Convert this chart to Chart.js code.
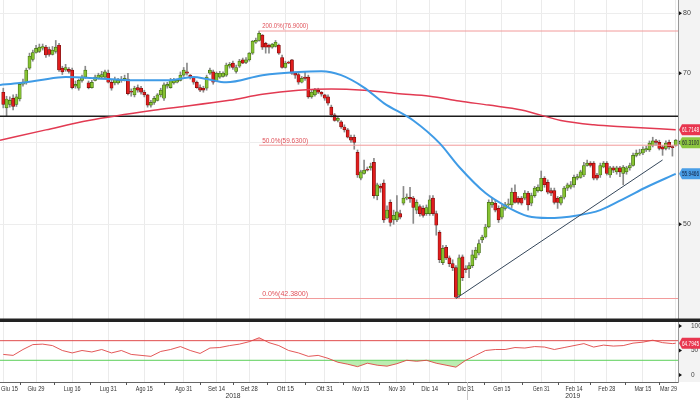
<!DOCTYPE html>
<html>
<head>
<meta charset="utf-8">
<script src="https://cdn.jsdelivr.net/npm/chart.js@4/dist/chart.umd.min.js"></script>
<style>html,body{margin:0;padding:0;background:#fff}</style>
</head>
<body>
<canvas id="c" width="700" height="400"></canvas>
<script>
/* daily candles, Giu 15 2018 -> Mar 29 2019 (index = trading day) */
const opens = [
  67.1,64.8,65.3,66.2,65.3,66.1,68.3,68.5,70.8,72.2, 73.3,73.5,74.0,74.2,73.8,73.0,73.5,74.5,70.8,70.5,
  70.6,70.5,68.0,67.7,68.9,69.4,68.5,67.8,68.9,69.2, 69.4,69.4,70.0,68.6,68.5,68.5,68.9,68.9,69.1,67.2,
  66.7,67.8,67.7,67.1,66.7,65.2,65.6,65.9,66.7,66.2, 68.0,67.8,68.5,68.6,68.9,69.7,70.2,69.7,69.4,68.6,
  67.8,67.7,67.7,70.0,70.2,68.9,69.4,69.5,69.7,71.1, 71.6,70.3,71.1,72.1,71.7,72.1,73.2,75.0,75.3,76.2,
  74.8,74.5,74.2,74.3,74.5,72.5,70.9,71.7,72.1,70.0, 69.8,68.6,69.4,69.4,66.4,66.7,67.4,67.1,66.7,66.4,
  64.9,63.8,63.0,62.8,62.1,61.7,60.7,60.7,58.7,55.4, 56.0,56.5,56.7,57.4,53.3,54.4,54.8,50.7,52.5,50.5,
  50.5,51.2,52.4,53.0,53.1,53.0,51.6,52.0,51.8,51.2, 51.2,53.0,51.2,49.1,45.9,47.5,46.4,45.8,45.4,42.7,
  46.5,45.3,45.3,45.6,46.4,46.9,48.3,48.6,49.7,52.2, 52.4,51.8,50.8,51.8,52.2,52.2,53.7,53.0,53.0,53.0,
  53.6,52.4,53.3,53.9,53.9,55.4,54.9,53.9,53.9,53.0, 52.4,53.1,54.2,54.3,54.6,55.4,55.5,55.8,57.0,57.3,
  57.3,55.8,55.8,56.8,57.3,55.8,56.7,56.2,56.7,56.0, 56.2,56.7,57.0,58.3,58.5,58.6,59.0,59.0,59.6,60.2,
  60.0,59.4,59.2,60.0,59.4,59.6
];
const highs = [
  67.7,66.5,66.4,66.7,66.8,68.6,69.1,70.8,73.2,73.7, 74.5,74.7,74.7,74.5,74.2,74.3,75.3,74.8,71.1,71.4,
  70.9,70.8,68.8,69.1,69.7,71.1,68.8,68.9,69.7,70.0, 70.3,70.5,70.5,68.9,69.4,69.2,69.5,69.7,70.0,67.6,
  68.0,68.2,68.0,67.4,66.8,65.9,66.5,66.9,67.7,68.5, 68.6,69.2,69.2,69.1,70.2,70.9,71.6,69.8,69.5,68.8,
  68.2,68.0,69.7,70.8,70.5,70.2,70.3,70.2,71.6,71.7, 71.9,71.3,72.2,72.4,72.5,73.3,75.3,75.7,76.9,76.3,
  75.0,74.7,74.8,75.3,74.7,72.9,71.9,71.9,72.2,70.2, 70.0,69.5,70.2,69.7,67.4,67.7,67.7,67.2,66.8,66.7,
  65.2,64.0,63.6,63.0,62.4,61.9,61.0,61.0,59.0,56.4, 57.7,56.8,57.3,57.9,54.8,54.7,55.2,52.1,52.8,51.6,
  53.3,51.6,54.4,53.5,54.3,53.2,52.8,52.2,52.1,52.2, 53.3,53.3,51.5,49.3,47.7,47.7,46.6,46.2,45.6,46.7,
  46.7,45.6,45.9,47.2,47.5,48.3,48.8,50.0,52.8,53.0, 52.8,52.1,52.2,52.5,52.9,54.2,54.6,53.2,53.2,53.9,
  53.8,53.6,54.4,54.6,56.3,55.6,55.2,54.2,54.2,53.2, 53.3,54.4,54.8,55.0,55.8,55.9,56.4,57.4,57.7,57.5,
  57.5,56.0,57.3,57.5,57.5,56.9,56.9,56.9,56.9,57.0, 56.9,57.3,58.6,59.0,59.1,59.4,59.5,60.2,60.7,60.4,
  60.3,59.6,60.2,60.3,59.6,60.4
];
const lows = [
  64.8,63.6,64.9,64.5,65.0,65.8,68.0,68.3,70.6,71.9, 73.2,73.3,73.7,72.5,72.7,72.9,73.2,70.3,69.8,70.3,
  70.0,67.6,67.7,67.4,68.6,69.2,67.6,67.7,68.8,69.1, 69.2,69.2,68.5,67.4,68.2,68.3,68.6,68.8,66.7,66.5,
  66.4,67.1,66.8,66.4,64.9,64.9,65.3,65.8,66.4,65.9, 67.7,67.7,68.3,68.5,68.8,69.5,69.7,69.1,68.3,67.7,
  67.2,67.1,67.4,69.8,68.3,68.8,69.2,69.4,69.5,70.8, 70.6,70.0,70.9,71.5,71.5,71.9,73.0,74.8,75.2,73.8,
  73.2,73.2,74.0,74.2,73.0,70.8,70.8,71.5,69.8,69.2, 68.3,68.5,68.9,66.2,66.2,66.5,66.9,66.5,65.9,65.2,
  63.5,62.9,62.8,61.9,61.4,60.6,60.0,59.1,55.5,55.2, 55.9,56.3,56.4,53.0,52.8,53.7,50.2,50.6,49.8,50.0,
  50.3,50.6,52.2,52.8,52.5,50.1,51.2,50.9,50.8,51.0, 51.0,51.0,48.8,45.9,45.7,46.2,45.5,45.1,42.38,42.5,
  44.1,44.9,44.4,45.4,46.2,46.7,48.0,48.5,49.6,51.9, 51.4,50.2,50.6,51.6,51.9,51.9,52.4,52.3,52.2,52.8,
  51.6,52.1,53.1,53.7,53.8,54.3,53.5,53.3,52.3,51.8, 52.2,52.9,53.9,54.1,54.3,55.2,55.4,55.6,56.9,56.8,
  55.2,55.2,55.5,56.7,55.8,55.5,56.1,55.9,55.6,54.6, 55.9,56.4,56.9,58.1,58.3,58.4,58.8,58.8,59.4,59.6,
  59.0,58.3,59.0,59.1,58.2,59.5
];
const closes = [
  65.3,66.1,65.9,65.0,66.4,68.3,68.6,70.5,72.7,73.3, 74.0,74.2,74.3,72.9,73.0,73.7,74.2,70.5,70.2,70.9,
  70.3,67.8,68.3,68.9,69.4,70.5,67.8,68.6,69.4,69.7, 69.8,70.2,68.6,67.7,69.1,68.9,69.1,69.2,66.9,67.1,
  67.7,67.4,67.1,66.7,65.2,65.6,66.2,66.7,67.4,68.2, 68.3,68.9,68.9,68.9,69.7,70.5,70.0,69.4,68.6,67.8,
  67.4,67.4,69.4,70.5,68.6,70.0,70.0,70.0,71.3,71.4, 70.9,70.9,71.9,71.6,72.1,73.2,75.2,75.3,76.5,74.2,
  74.2,74.2,74.7,75.0,73.2,70.9,71.6,71.6,70.0,69.7, 68.6,69.2,69.2,66.4,67.1,67.4,67.1,66.8,66.2,65.5,
  63.8,63.0,63.3,62.1,61.7,60.7,60.3,60.0,55.8,56.2, 56.4,56.4,56.9,53.3,54.6,54.2,50.5,51.6,50.2,51.0,
  51.4,50.8,53.0,53.1,52.9,51.9,52.5,51.2,51.0,51.9, 52.8,51.2,49.9,46.2,47.4,46.4,45.8,45.4,42.5,46.4,
  44.4,45.2,45.6,46.7,47.2,47.9,48.6,49.7,52.5,52.5, 51.6,50.5,51.9,52.2,52.3,53.7,52.5,52.5,52.4,53.6,
  52.2,53.3,54.2,54.3,55.4,54.6,53.7,53.6,52.5,52.5, 53.1,54.2,54.6,54.6,55.5,55.6,56.2,57.0,57.3,57.0,
  55.4,55.4,57.0,57.3,56.0,56.7,56.4,56.7,56.2,56.8, 56.7,57.0,58.3,58.6,58.6,59.1,59.2,59.9,60.2,60.0,
  59.2,59.1,59.9,59.4,59.3,60.31
];

/* moving averages (sampled) */
const ma50Idx = [-1,5,11,19,29,40,50,58,62,68,79,90,97,103,110,116,125,133,139,147,154,160,166,175,182,190,196,205];
const ma50Val = [68.2,68.5,68.9,69.4,69.2,68.9,68.9,69.4,69.1,68.6,69.7,70.2,70.3,69.7,67.8,65.5,63.0,59.9,56.8,53.6,51.9,50.9,50.7,51.0,51.6,53.1,54.3,55.9466];
const ma200Idx = [-1,13,26,48,69,79,90,100,110,120,130,139,148,158,170,180,190,205];
const ma200Val = [60.3,61.7,63.0,64.6,65.9,66.8,67.4,67.6,67.4,66.9,66.5,65.8,65.2,64.5,63.0,62.4,62.1,61.7148];

/* RSI panel */
const rsiIdx = [0,3,6,9,12,15,18,21,24,27,30,33,36,39,42,45,48,51,54,57,60,63,66,69,72,75,78,81,84,87,90,93,96,99,
  102,105,108,111,114,117,120,123,126,129,132,135,138,141,144,147,150,153,156,159,162,165,168,171,174,177,180,183,186,189,
  192,195,198,201,204,205];
const rsiVal = [42,40,52,62,63,60,50,45,50,47,52,45,50,42,40,38,48,52,58,50,44,55,56,60,63,68,76,66,60,50,45,38,40,34,
  26,22,17,24,20,18,23,30,28,30,24,20,16,30,40,50,52,52,56,55,58,57,52,56,60,64,57,61,59,60,
  65,67,71,66,64,64.7945];
const rsiLevels = [70, 30];

/* studies */
const fibStartIdx = 78;
const fibLevels = [76.9, 59.63, 42.38];
const fibLabels = ['200.0%(76.9000)', '50.0%(59.6300)', '0.0%(42.3800)'];
const hLine = 63.6;
const trendIdx = [138, 201];
const trendVal = [42.38, 57.7];

/* right-edge value tags */
const tagTexts = ['61.7148', '60.3100', '55.9466'];
const tagValues = [61.7148, 60.31, 55.9466];
const rsiTag = ['64.7945', 64.7945];

/* x axis */
const tickIdx = [0,10,21,32,43,55,65,75,86,98,109,120,130,141,152,164,174,184,195,205];
const tickLabels = ['Giu 15','Giu 29','Lug 16','Lug 31','Ago 15','Ago 31','Set 14','Set 28','Ott 15','Ott 31',
  'Nov 15','Nov 30','Dic 14','Dic 31','Gen 15','Gen 31','Feb 14','Feb 28','Mar 15','Mar 29'];
const years = ['2018', '2019'];
const yearCenters = [70, 173.6];
const yearBreak = 141.5;

const X_MIN = -1, X_MAX = 205.7;
const FONT = '"Liberation Sans", Arial, sans-serif';
Chart.defaults.font.family = FONT;

const up = opens.map((o, i) => closes[i] >= o);
const bodyFill = up.map(u => u ? '#86c232' : '#e01d1d');
const bodyEdge = up.map(u => u ? '#3f6a12' : '#7d0c0c');

const pts = (xs, ys) => xs.map((x, i) => ({x, y: ys[i]}));
const flat = (v, from) => [{x: from, y: v}, {x: X_MAX, y: v}];

const overlay = {
  id: 'overlay',
  beforeDraw(chart) {
    const {ctx, chartArea: a} = chart;
    ctx.save();
    ctx.fillStyle = '#f3f3f3';
    ctx.fillRect(a.right, 0, chart.width - a.right, a.bottom);
    ctx.restore();
  },
  afterDraw(chart) {
    const {ctx, chartArea: a} = chart;
    const {x, y, yr} = chart.scales;
    ctx.save();
    // fib labels
    ctx.font = '7px ' + FONT;
    ctx.fillStyle = '#e0525a';
    ctx.textAlign = 'left';
    ctx.textBaseline = 'bottom';
    fibLevels.forEach((v, i) => ctx.fillText(fibLabels[i], x.getPixelForValue(fibStartIdx) + 3, y.getPixelForValue(v) - 1, 46));
    // panel separator
    ctx.fillStyle = '#222';
    ctx.fillRect(0, y.bottom - 1.5, chart.width, 3.5);
    // minor x ticks between labels
    ctx.strokeStyle = '#555';
    ctx.lineWidth = 1;
    for (let i = 0; i < tickIdx.length - 1; i++) {
      const px = Math.round(x.getPixelForValue((tickIdx[i] + tickIdx[i + 1]) / 2)) + 0.5;
      ctx.beginPath(); ctx.moveTo(px, a.bottom); ctx.lineTo(px, a.bottom + 3); ctx.stroke();
    }
    // date labels
    ctx.fillStyle = '#333';
    ctx.font = '7px ' + FONT;
    ctx.textAlign = 'center';
    ctx.textBaseline = 'middle';
    tickIdx.forEach((t, i) => {
      const w = Math.min(ctx.measureText(tickLabels[i]).width, 17);
      const cx = Math.min(Math.max(x.getPixelForValue(t), w / 2 + 1), a.right - w / 2 - 1);
      ctx.fillText(tickLabels[i], cx, 389, 17);
    });
    // year break + year labels
    ctx.strokeStyle = '#c8c8c8';
    const bx = Math.round(x.getPixelForValue(yearBreak)) + 0.5;
    ctx.beginPath(); ctx.moveTo(bx, a.bottom); ctx.lineTo(bx, chart.height); ctx.stroke();
    years.forEach((t, i) => ctx.fillText(t, x.getPixelForValue(yearCenters[i]), 396, 15));
    // tick arrows on right axes
    ctx.fillStyle = '#111';
    [y, yr].forEach(s => s.ticks.forEach(t => {
      const py = s.getPixelForValue(t.value);
      ctx.beginPath(); ctx.moveTo(a.right + 1, py - 2); ctx.lineTo(a.right + 4, py); ctx.lineTo(a.right + 1, py + 2); ctx.fill();
    }));
    // value tags
    const tag = (py, txt, bg, fg) => {
      ctx.fillStyle = bg;
      ctx.beginPath();
      ctx.moveTo(a.right + 1, py); ctx.lineTo(a.right + 4, py - 5.5); ctx.lineTo(chart.width, py - 5.5);
      ctx.lineTo(chart.width, py + 5.5); ctx.lineTo(a.right + 4, py + 5.5); ctx.closePath(); ctx.fill();
      ctx.fillStyle = fg;
      ctx.font = '7px ' + FONT;
      ctx.textAlign = 'left';
      ctx.textBaseline = 'middle';
      ctx.fillText(txt, a.right + 4, py + 0.5, chart.width - a.right - 5);
    };
    const y0 = y.getPixelForValue(tagValues[0]);
    const y1 = Math.max(y.getPixelForValue(tagValues[1]), y0 + 13);
    tag(y0, tagTexts[0], '#e8364f', '#fff');
    tag(y1, tagTexts[1], '#8cc63f', '#223');
    tag(y.getPixelForValue(tagValues[2]), tagTexts[2], '#4a9ee6', '#102040');
    tag(yr.getPixelForValue(rsiTag[1]), rsiTag[0], '#e8364f', '#fff');
    ctx.restore();
  }
};

const lineBase = {type: 'line', pointRadius: 0, fill: false, yAxisID: 'y'};
const rsiBase = {type: 'line', pointRadius: 0, yAxisID: 'yr'};

new Chart(document.getElementById('c'), {
  type: 'bar',
  data: {
    datasets: [
      {...lineBase, order: 0, data: pts(trendIdx, trendVal), borderColor: '#34465a', borderWidth: 1},
      {...lineBase, order: 1, data: pts(ma50Idx, ma50Val), borderColor: '#3f9be6', borderWidth: 2, cubicInterpolationMode: 'monotone'},
      {...lineBase, order: 1, data: pts(ma200Idx, ma200Val), borderColor: '#e23a52', borderWidth: 1.5, cubicInterpolationMode: 'monotone'},
      {...lineBase, order: 2, data: flat(hLine, X_MIN), borderColor: '#1c1c1c', borderWidth: 1.5},
      ...fibLevels.map(v => ({...lineBase, order: 3, data: flat(v, fibStartIdx), borderColor: '#f29a9a', borderWidth: 1})),
      {type: 'bar', order: 4, yAxisID: 'y', grouped: false, barThickness: 3.2, minBarLength: 1,
       data: opens.map((o, i) => ({x: i, y: [o, closes[i]]})),
       backgroundColor: bodyFill, borderColor: bodyEdge, borderWidth: 0.7, borderSkipped: false},
      {type: 'bar', order: 5, yAxisID: 'y', grouped: false, barThickness: 1,
       data: lows.map((l, i) => ({x: i, y: [l, highs[i]]})), backgroundColor: '#8a8a8a'},
      {...rsiBase, order: 0, data: pts(rsiIdx, rsiVal), borderColor: '#e04545', borderWidth: 0.9,
       fill: {target: {value: rsiLevels[0]}, above: 'rgba(232,70,70,0.35)', below: 'rgba(0,0,0,0)'}},
      {...rsiBase, order: 1, data: pts(rsiIdx, rsiVal), borderWidth: 0, borderColor: 'rgba(0,0,0,0)',
       fill: {target: {value: rsiLevels[1]}, above: 'rgba(0,0,0,0)', below: 'rgba(120,220,100,0.5)'}},
      {...rsiBase, order: 2, data: flat(rsiLevels[0], X_MIN), borderColor: '#e05050', borderWidth: 1},
      {...rsiBase, order: 2, data: flat(rsiLevels[1], X_MIN), borderColor: '#5ccf5c', borderWidth: 1}
    ]
  },
  options: {
    responsive: false,
    animation: false,
    devicePixelRatio: 1,
    layout: {padding: 0},
    plugins: {legend: {display: false}, tooltip: {enabled: false}},
    scales: {
      x: {
        type: 'linear', min: X_MIN, max: X_MAX, offset: false,
        grid: {color: '#ebebeb', offset: false, drawTicks: false},
        border: {color: '#666'},
        ticks: {display: false},
        afterBuildTicks: s => { s.ticks = tickIdx.map(v => ({value: v})); },
        afterFit: s => { s.height = 18; s.paddingLeft = 0; s.paddingRight = 0; }
      },
      y: {
        type: 'logarithmic', position: 'right', stack: 'p', stackWeight: 320, min: 40.4, max: 82.4,
        grid: {color: '#ededed', drawTicks: false},
        border: {color: '#999'},
        ticks: {padding: 5, color: '#444', font: {size: 7}, callback: v => v === 60 ? '' : String(v)},
        afterBuildTicks: s => { s.ticks = [50, 60, 70, 80].map(v => ({value: v})); },
        afterFit: s => { s.width = 22; s.paddingTop = 0; s.paddingBottom = 0; }
      },
      yr: {
        type: 'linear', position: 'right', stack: 'p', stackWeight: 62, min: -14.3, max: 112.2,
        grid: {display: false},
        border: {color: '#999'},
        ticks: {padding: 5, color: '#444', font: {size: 6.5}},
        afterBuildTicks: s => { s.ticks = [0, 50, 100].map(v => ({value: v})); },
        afterFit: s => { s.width = 22; s.paddingTop = 0; s.paddingBottom = 0; }
      }
    }
  },
  plugins: [overlay]
});
</script>
</body>
</html>
